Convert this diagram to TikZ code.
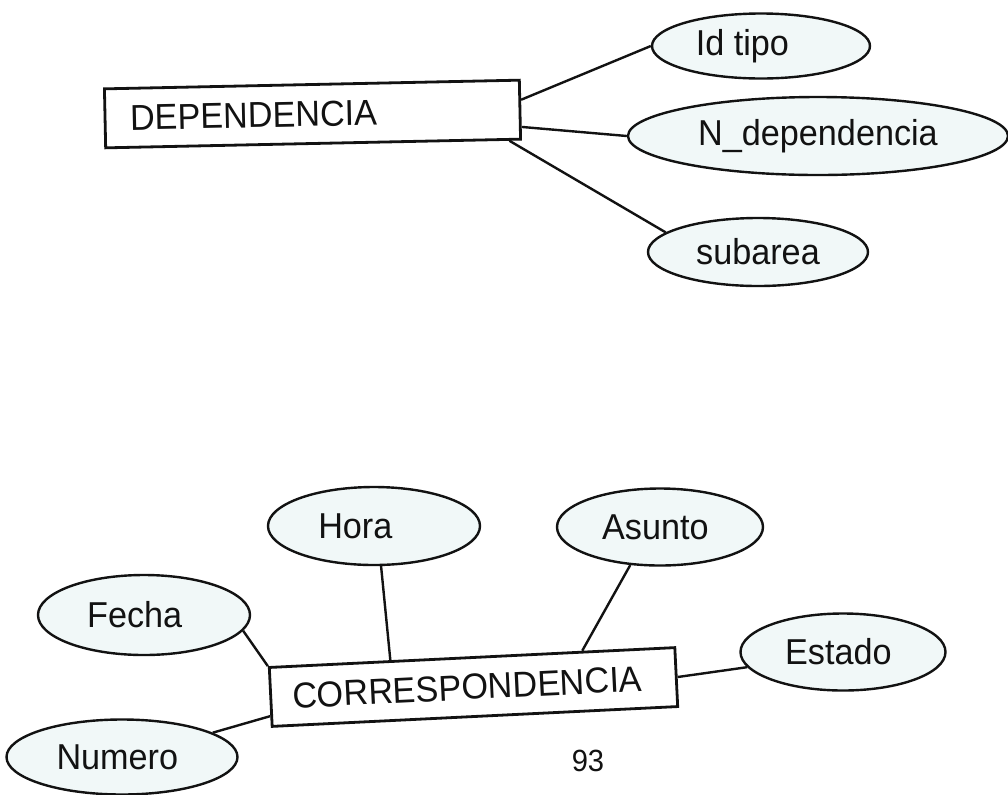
\documentclass[tikz,border=0pt]{standalone}
\usepackage{fontspec}
\setmainfont{Liberation Sans}[FakeStretch=0.95]
\usetikzlibrary{shapes.geometric,calc}
\definecolor{ink}{RGB}{18,18,18}
\definecolor{efill}{RGB}{241,248,248}
\begin{document}
\begin{tikzpicture}[x=0.75pt,y=-0.75pt,
  every node/.style={font=\fontsize{27}{32}\selectfont, text=ink},
  entity/.style={draw=ink, line width=2.1pt, fill=white, inner ysep=0pt, align=left},
  attr/.style={draw=ink, ellipse, line width=1.8pt, fill=efill, inner sep=0pt},
  link/.style={draw=ink, line width=1.8pt}]
\useasboundingbox[fill=white] (0,0) rectangle (1008,794);

% entities
\node[entity, rotate=1.2, inner xsep=18.75pt, text width=273.75pt, minimum height=44.25pt] (dep) at (312.5,114) {DEPENDENCIA};
\node[entity, rotate=2.8, inner xsep=16.5pt, text width=271.5pt, minimum height=44.25pt] (cor) at (473.5,687) {CORRESPONDENCIA};

% attributes of DEPENDENCIA
\node[attr, minimum width=163.5pt, minimum height=48.75pt] (idtipo) at (761,46) {Id tipo\kern28pt};
\node[attr, minimum width=285pt, minimum height=58.5pt] (ndep) at (818,136) {N\_dependencia};
\node[attr, minimum width=165pt, minimum height=51pt] (subarea) at (758,252) {subarea};

% attributes of CORRESPONDENCIA
\node[attr, minimum width=159pt, minimum height=58.5pt] (hora) at (374,526) {Hora\kern28pt};
\node[attr, minimum width=154.5pt, minimum height=57.75pt] (asunto) at (660,527) {Asunto\kern7pt};
\node[attr, minimum width=159pt, minimum height=60pt] (fecha) at (144,615) {Fecha\kern14pt};
\node[attr, minimum width=153.75pt, minimum height=57.75pt] (estado) at (843,652) {Estado\kern7pt};
\node[attr, minimum width=173.25pt, minimum height=56.25pt] (numero) at (122,757) {Numero\kern7pt};

% page number
\node[font=\fontsize{23}{27}\selectfont] (pg) at (588,761) {93};

% connectors
\draw[link] ($(dep.north east)!0.34!(dep.south east)$) -- (idtipo.west);
\draw[link] ($(dep.north east)!0.78!(dep.south east)$) -- (ndep.west);
\draw[link] ($(dep.south east)!0.03!(dep.south west)$) -- (subarea.168);

\draw[link] (cor.north west) -- (fecha.-9);
\draw[link] ($(cor.north west)!0.81!(cor.south west)$) -- (numero.15);
\draw[link] ($(cor.north west)!0.30!(cor.north east)$) -- (hora.-80);
\draw[link] ($(cor.north west)!0.77!(cor.north east)$) -- (asunto.-128);
\draw[link] (cor.east) -- (estado.-171);
\end{tikzpicture}
\end{document}
